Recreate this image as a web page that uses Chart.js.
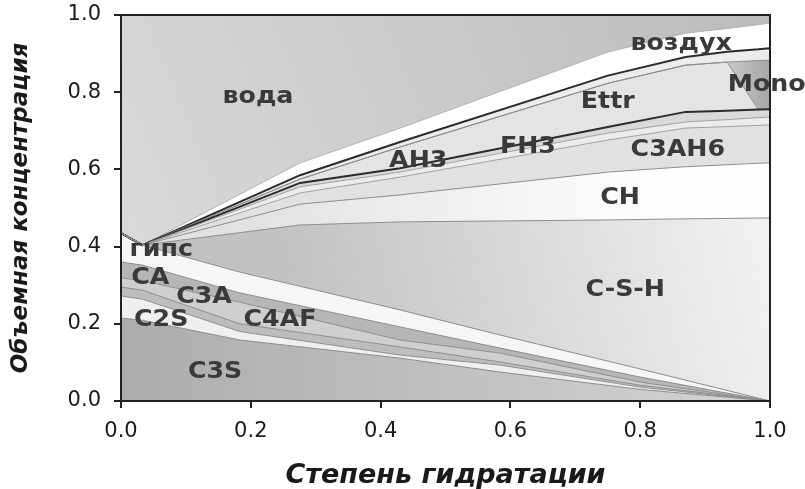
<!DOCTYPE html>
<html>
<head>
<meta charset="utf-8">
<script src="https://cdn.jsdelivr.net/npm/chart.js@4.4.0/dist/chart.umd.min.js"></script>
<style>
    html, body { margin: 0; padding: 0; background: #fff; }
    #wrap { width: 805px; height: 489px; }
</style>
</head>
<body>
<div id="wrap"><canvas id="phaseChart" width="805" height="489"></canvas></div>
<script>
// степень гидратации - точки по оси X
const xLow = [0, 0.033, 0.183, 0.43, 0.584, 0.8, 1.0];                 // клинкер
const xHigh = [0, 0.033, 0.276, 0.43, 0.75, 0.87, 0.934, 0.982, 1.0];   // продукты

// верхние границы слоёв (накопленная объемная доля)
const c3sTop  = [0.215, 0.209, 0.158, 0.111, 0.075, 0.030, 0];
const c2sTop  = [0.272, 0.264, 0.180, 0.119, 0.093, 0.036, 0];
const c4afTop = [0.295, 0.287, 0.200, 0.140, 0.101, 0.041, 0];
const c3aTop  = [0.319, 0.312, 0.256, 0.158, 0.124, 0.049, 0];
const caTop   = [0.360, 0.352, 0.280, 0.192, 0.137, 0.062, 0];
const gypsTop = [0.435, 0.404, 0.334, 0.236, 0.171, 0.083, 0];

const cshTop   = [0.435, 0.404, 0.456, 0.464, 0.469, 0.472, 0.473, 0.474, 0.474];
const chTop    = [0.435, 0.404, 0.510, 0.534, 0.593, 0.607, 0.612, 0.616, 0.617];
const c3ah6Top = [0.435, 0.404, 0.539, 0.580, 0.676, 0.707, 0.711, 0.714, 0.715];
const ah3Top   = [0.435, 0.404, 0.555, 0.593, 0.694, 0.723, 0.729, 0.734, 0.736];
const fh3Top   = [0.435, 0.404, 0.565, 0.603, 0.710, 0.749, 0.752, 0.755, 0.756];
const ettrTop  = [0.435, 0.404, 0.575, 0.658, 0.823, 0.870, 0.878, 0.755, 0.756];
const monoTop  = [0.435, 0.404, 0.575, 0.658, 0.823, 0.870, 0.878, 0.882, 0.883];
const restTop  = [0.435, 0.404, 0.585, 0.671, 0.843, 0.891, 0.905, 0.911, 0.914];
const airTop   = [0.435, 0.404, 0.617, 0.707, 0.904, 0.953, 0.965, 0.975, 0.979];
const waterTop = [1, 1, 1, 1, 1, 1, 1, 1, 1];

const tickValues = [0, 0.2, 0.4, 0.6, 0.8, 1.0];

// подписи фаз (в координатах графика)
const phaseLabels = [
    { text: 'вода', x: 0.211, y: 0.788 },
    { text: 'воздух', x: 0.863, y: 0.925 },
    { text: 'Mono', x: 0.995, y: 0.819 },
    { text: 'Ettr', x: 0.75, y: 0.775 },
    { text: 'FH3', x: 0.627, y: 0.658 },
    { text: 'AH3', x: 0.458, y: 0.622 },
    { text: 'C3AH6', x: 0.858, y: 0.65 },
    { text: 'CH', x: 0.769, y: 0.526 },
    { text: 'C-S-H', x: 0.777, y: 0.288 },
    { text: 'гипс', x: 0.062, y: 0.391 },
    { text: 'CA', x: 0.045, y: 0.319 },
    { text: 'C3A', x: 0.128, y: 0.269 },
    { text: 'C2S', x: 0.062, y: 0.21 },
    { text: 'C4AF', x: 0.245, y: 0.21 },
    { text: 'C3S', x: 0.145, y: 0.075 }
];

function pts(xs, ys) {
    return xs.map((x, i) => ({ x: x, y: ys[i] }));
}

// градиентная заливка по области графика
function grad(x0, y0, x1, y1, c0, c1) {
    return function (ctx) {
        const a = ctx.chart.chartArea;
        if (!a) return c0;
        const w = a.right - a.left, h = a.bottom - a.top;
        const g = ctx.chart.ctx.createLinearGradient(a.left + x0 * w, a.top + y0 * h, a.left + x1 * w, a.top + y1 * h);
        g.addColorStop(0, c0);
        g.addColorStop(1, c1);
        return g;
    };
}

function layer(label, xs, ys, fill, bg, line, width) {
    return {
        label: label,
        data: pts(xs, ys),
        fill: fill,
        backgroundColor: bg,
        borderColor: line,
        borderWidth: width,
        pointRadius: 0,
        tension: 0
    };
}

const thin = '#8c8c8c';
const dark = '#2b2b2b';

const datasets = [
    layer('C3S', xLow, c3sTop, 'origin', grad(0, 0, 1, 0, '#acacac', '#d4d4d4'), thin, 1),
    layer('C2S', xLow, c2sTop, '-1', '#efefef', thin, 1),
    layer('C4AF', xLow, c4afTop, '-1', '#bdbdbd', thin, 1),
    layer('C3A', xLow, c3aTop, '-1', '#cfcfcf', thin, 1),
    layer('CA', xLow, caTop, '-1', '#b6b6b6', thin, 1),
    layer('гипс', xLow, gypsTop, '-1', '#f6f6f6', thin, 1),
    layer('C-S-H', xHigh, cshTop, '-1', grad(0.25, 0.6, 1, 0.35, '#c2c2c2', '#f3f3f3'), thin, 1),
    layer('CH', xHigh, chTop, '-1', grad(0.2, 0, 0.8, 0, '#e2e2e2', '#fdfdfd'), thin, 1),
    layer('C3AH6', xHigh, c3ah6Top, '-1', '#e1e1e1', '#a0a0a0', 1),
    layer('AH3', xHigh, ah3Top, '-1', '#ececec', '#a0a0a0', 1),
    layer('FH3', xHigh, fh3Top, '-1', '#d9d9d9', dark, 2),
    layer('Ettr', xHigh, ettrTop, '-1', '#e4e4e4', '#8c8c8c', 1),
    layer('Mono', xHigh, monoTop, '-1', grad(0.9, 0, 1, 0, '#dcdcdc', '#a6a6a6'), '#8c8c8c', 1),
    layer('прочее', xHigh, restTop, '-1', '#ececec', dark, 2),
    layer('воздух', xHigh, airTop, '-1', '#ffffff', '#b0b0b0', 1),
    layer('вода', xHigh, waterTop, '-1', grad(0, 0.7, 1, 0, '#dadada', '#bcbcbc'), 'rgba(0,0,0,0)', 0)
];

// рамка и подписи фаз
const framePlugin = {
    id: 'frame',
    afterDatasetsDraw(chart) {
        const ctx = chart.ctx, a = chart.chartArea;
        const xs = chart.scales.x, ys = chart.scales.y;
        ctx.save();
        ctx.strokeStyle = '#222';
        ctx.lineWidth = 2;
        ctx.strokeRect(a.left, a.top, a.right - a.left, a.bottom - a.top);

        ctx.fillStyle = '#3a3a3a';
        ctx.font = 'bold 23px "DejaVu Sans"';
        ctx.textAlign = 'center';
        ctx.textBaseline = 'middle';
        phaseLabels.forEach(function (l) {
            const px = xs.getPixelForValue(l.x);
            const py = ys.getPixelForValue(l.y);
            ctx.save();
            ctx.translate(px, py);
            ctx.scale(1.1, 1);
            ctx.fillText(l.text, 0, 0);
            ctx.restore();
        });
        ctx.restore();
    }
};

const tickFont = { family: 'DejaVu Sans', size: 21 };

new Chart(document.getElementById('phaseChart'), {
    type: 'line',
    data: { datasets: datasets },
    options: {
        responsive: false,
        animation: false,
        devicePixelRatio: 1,
        layout: { padding: { left: 0, right: 35, top: 15, bottom: 0 } },
        plugins: {
            legend: { display: false },
            tooltip: { enabled: false },
            filler: { drawTime: 'beforeDatasetsDraw' }
        },
        scales: {
            x: {
                type: 'linear',
                min: 0,
                max: 1,
                afterFit: function (s) { s.height = 88; },
                afterBuildTicks: function (s) { s.ticks = tickValues.map(v => ({ value: v })); },
                ticks: {
                    color: '#1a1a1a',
                    font: tickFont,
                    padding: 11,
                    maxRotation: 0,
                    callback: v => v.toFixed(1)
                },
                grid: { drawOnChartArea: false, color: '#222', lineWidth: 2, tickLength: 7 },
                border: { display: true, color: '#222', width: 2 },
                title: {
                    display: true, text: 'Степень гидратации', color: '#1a1a1a', padding: 0,
                    font: { family: 'DejaVu Sans', size: 27, weight: 'bold', style: 'italic', lineHeight: 1.0 }
                }
            },
            y: {
                type: 'linear',
                min: 0,
                max: 1,
                afterFit: function (s) {
                    s.width = 121;
                    s.paddingTop = 0;
                    s.paddingBottom = 0;
                },
                afterBuildTicks: function (s) { s.ticks = tickValues.map(v => ({ value: v })); },
                ticks: {
                    color: '#1a1a1a',
                    font: tickFont,
                    padding: 13,
                    callback: v => v.toFixed(1)
                },
                grid: { drawOnChartArea: false, color: '#222', lineWidth: 2, tickLength: 7 },
                border: { display: true, color: '#222', width: 2 },
                title: {
                    display: true, text: 'Объемная концентрация', color: '#1a1a1a', padding: { top: 10, bottom: 0 },
                    font: { family: 'DejaVu Sans', size: 23, weight: 'bold', style: 'italic', lineHeight: 1.0 }
                }
            }
        }
    },
    plugins: [framePlugin]
});
</script>
</body>
</html>
